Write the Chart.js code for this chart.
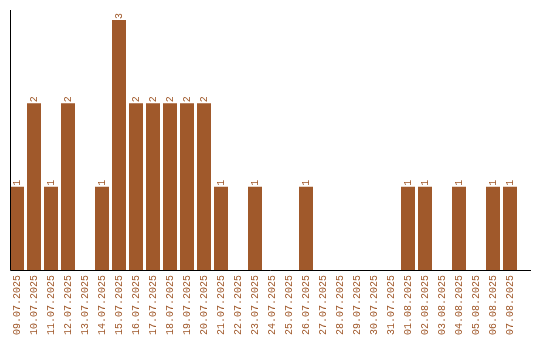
<!DOCTYPE html>
<html>
<head>
<meta charset="utf-8">
<script src="https://cdn.jsdelivr.net/npm/chart.js@4/dist/chart.umd.min.js"></script>
<style>
  html, body { margin: 0; padding: 0; background: #fff; }
  #wrap { width: 540px; height: 340px; }
</style>
</head>
<body>
<div id="wrap"><canvas id="chart-bar"></canvas></div>
<script>
var days = ["09.07.2025", "10.07.2025", "11.07.2025", "12.07.2025", "13.07.2025", "14.07.2025",
    "15.07.2025", "16.07.2025", "17.07.2025", "18.07.2025", "19.07.2025", "20.07.2025",
    "21.07.2025", "22.07.2025", "23.07.2025", "24.07.2025", "25.07.2025", "26.07.2025",
    "27.07.2025", "28.07.2025", "29.07.2025", "30.07.2025", "31.07.2025", "01.08.2025",
    "02.08.2025", "03.08.2025", "04.08.2025", "05.08.2025", "06.08.2025", "07.08.2025"];
var counts = [1, 2, 1, 2, 0, 1, 3, 2, 2, 2, 2, 2, 1, 0, 1, 0, 0, 1, 0, 0, 0, 0, 0, 1, 1, 0, 1, 0, 1, 1];

var brown = "#a0592b";
var monoFont = "'Liberation Mono', monospace";

// value labels above the bars, rotated like the date labels
var valueLabels = {
    id: "valueLabels",
    afterDatasetsDraw: function(chart) {
        var ctx = chart.ctx;
        var meta = chart.getDatasetMeta(0);
        ctx.save();
        ctx.fillStyle = brown;
        ctx.font = "10px " + monoFont;
        ctx.textAlign = "left";
        ctx.textBaseline = "middle";
        meta.data.forEach(function(bar, i) {
            if (!counts[i]) return;
            ctx.save();
            ctx.translate(bar.x, bar.y - 1);
            ctx.rotate(-Math.PI / 2);
            ctx.fillText(String(counts[i]), 0, 0);
            ctx.restore();
        });
        ctx.restore();
    }
};

// plain black axis lines
var axisLines = {
    id: "axisLines",
    afterDatasetsDraw: function(chart) {
        var a = chart.chartArea;
        var ctx = chart.ctx;
        var x0 = Math.round(a.left) + 1.5;
        var y0 = Math.round(a.bottom) + 0.5;
        ctx.save();
        ctx.strokeStyle = "#000";
        ctx.lineWidth = 1;
        ctx.beginPath();
        ctx.moveTo(x0, a.top);
        ctx.lineTo(x0, y0);
        ctx.lineTo(a.right + 12.5, y0);
        ctx.stroke();
        ctx.restore();
    }
};

var ctx1 = document.getElementById("chart-bar").getContext("2d");

new Chart(ctx1, {
    type: "bar",
    data: {
        labels: days,
        datasets: [{
            data: counts,
            backgroundColor: brown,
            barPercentage: 0.8235,
            categoryPercentage: 1
        }]
    },
    options: {
        responsive: true,
        maintainAspectRatio: false,
        animation: false,
        layout: {
            padding: { left: 8.5, right: 21.5, top: 10, bottom: 0 }
        },
        plugins: {
            legend: { display: false },
            tooltip: { enabled: false }
        },
        scales: {
            x: {
                grid: { display: false, drawTicks: false },
                border: { display: false },
                ticks: {
                    color: brown,
                    font: { family: monoFont, size: 10 },
                    minRotation: 90,
                    maxRotation: 90,
                    autoSkip: false,
                    padding: 5
                }
            },
            y: {
                display: false,
                min: 0,
                max: Math.max.apply(null, counts) * 1.04
            }
        }
    },
    plugins: [valueLabels, axisLines]
});
</script>
</body>
</html>
